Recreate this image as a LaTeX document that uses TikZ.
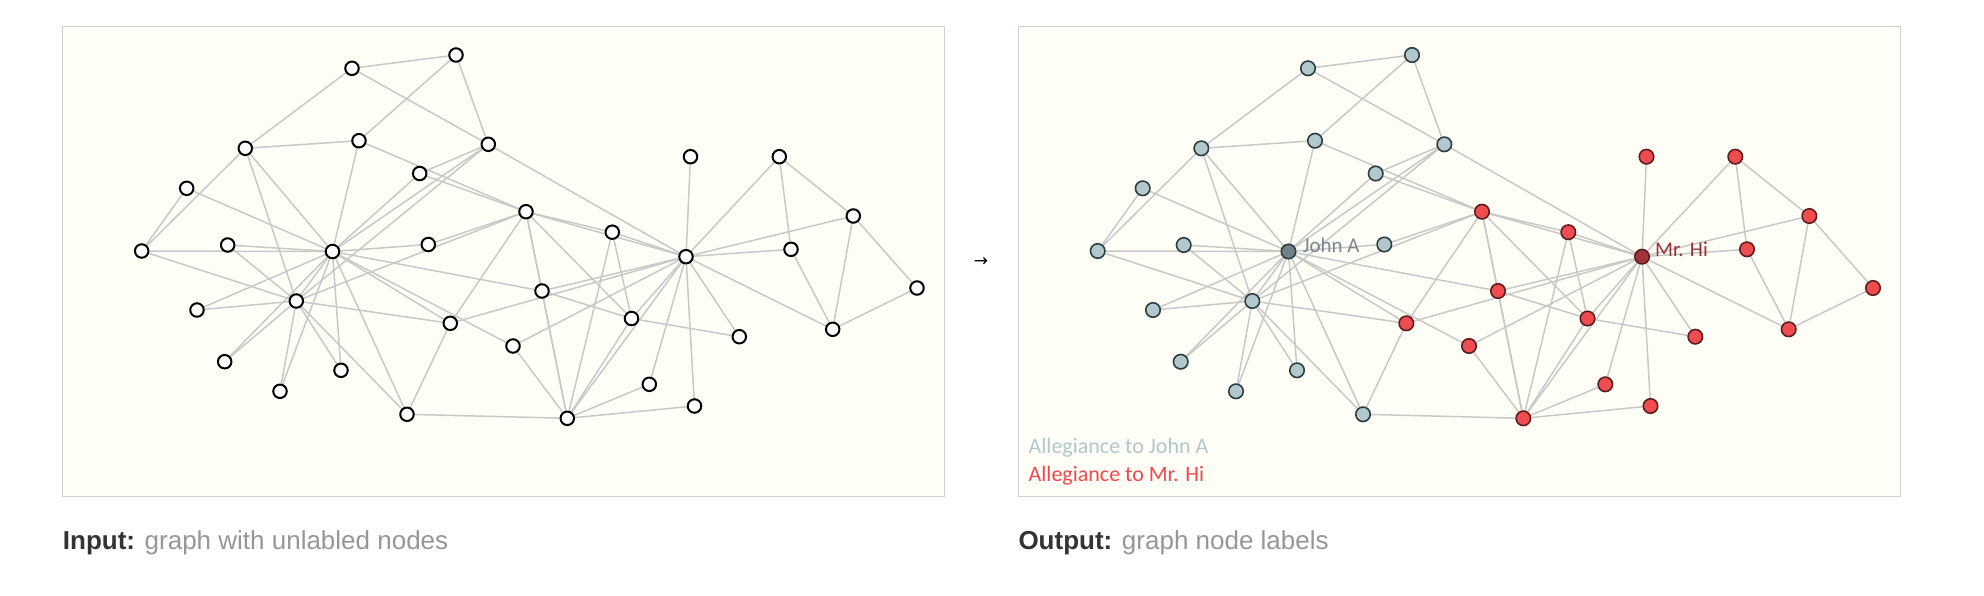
\documentclass[tikz,border=0pt]{standalone}
\usepackage{fontspec}
\setmainfont{Liberation Sans}
\newfontfamily\uifont{Carlito}
\newfontfamily\arrowfont{DejaVu Sans}
\usetikzlibrary{backgrounds}

\definecolor{panelbg}{RGB}{255,255,247}
\definecolor{panelline}{RGB}{208,208,208}
\definecolor{edgegray}{RGB}{200,200,200}
\definecolor{jafill}{RGB}{178,200,204}
\definecolor{jadraw}{RGB}{45,62,66}
\definecolor{jahub}{RGB}{112,130,134}
\definecolor{hifill}{RGB}{239,76,80}
\definecolor{hidraw}{RGB}{92,30,32}
\definecolor{hihub}{RGB}{160,52,56}
\definecolor{jatext}{RGB}{120,136,140}
\definecolor{hitext}{RGB}{150,50,55}
\definecolor{legja}{RGB}{176,200,204}
\definecolor{leghi}{RGB}{240,72,78}
\definecolor{capgray}{RGB}{150,150,150}
\definecolor{capdark}{RGB}{51,51,51}

% 各ノードの位置 (番号/x/y)
\def\hilist{2/567.3/418.3, 3/526/211.7, 4/631.5/318.5,
  5/779.3/156.7, 6/832.7/329.3, 7/853.3/216, 8/612.3/232.2, 9/450.3/323.3,
  11/791/249.3, 12/690.5/156.7, 13/739.3/336.7, 14/542/291, 17/917/288,
  18/649.3/384.3, 20/513/346, 22/694.5/406}
\def\jalist{10/428.3/244.5, 15/227.7/245, 16/197/310, 19/224.7/361.7,
  21/341/370.3, 23/280/391.3, 24/245.3/148.3, 25/456/55, 26/352/68.3,
  27/186.7/188.3, 28/359/140.7, 29/419.7/173.5, 30/141.7/251,
  31/407/414.3, 32/488.3/144.3, 33/296.3/301}

\begin{document}
\begin{tikzpicture}[x=1pt,y=-1pt,
  vert/.style={circle,inner sep=0pt,minimum size=13.5pt},
  plain/.style={vert,draw=black,fill=white,line width=2pt},
  ja/.style={vert,minimum size=14.5pt,draw=jadraw,fill=jafill,line width=1.6pt},
  hi/.style={vert,minimum size=14.5pt,draw=hidraw,fill=hifill,line width=1.6pt},
  edge/.style={draw=edgegray,line width=1.5pt},
  panel/.style={draw=panelline,fill=panelbg,line width=1pt}]
  \useasboundingbox (0,0) rectangle (1984,595);

  % ノード(左:入力, 右:出力)
  \foreach \n/\x/\y in \hilist {
    \node[plain] (L\n) at (\x,\y) {};
    \node[hi] (R\n) at (\x+956,\y) {};
  }
  \foreach \n/\x/\y in \jalist {
    \node[plain] (L\n) at (\x,\y) {};
    \node[ja] (R\n) at (\x+956,\y) {};
  }
  % Mr. Hi と John A
  \node[plain] (L1) at (686,256.7) {};
  \node[plain] (L34) at (332.5,251.5) {};
  \node[hi,fill=hihub] (R1) at (1642,256.7) {};
  \node[ja,fill=jahub] (R34) at (1288.5,251.5) {};

  % 枠と辺
  \begin{scope}[on background layer]
    \draw[panel] (62,26.5) rectangle (944.6,496);
    \draw[panel] (1018.6,26.5) rectangle (1900.6,496);
    \foreach \a/\b in {1/2,1/3,1/4,1/5,1/6,1/7,1/8,1/9,1/11,1/12,1/13,1/14,
      1/18,1/20,1/22,1/32,2/3,2/4,2/8,2/14,2/18,2/20,2/22,2/31,
      3/4,3/8,3/9,3/10,3/14,3/28,3/29,3/33,4/8,4/13,4/14,5/7,5/11,
      6/7,6/11,6/17,7/17,9/31,9/33,9/34,10/34,14/34,15/33,15/34,
      16/33,16/34,19/33,19/34,20/34,21/33,21/34,23/33,23/34,
      24/26,24/28,24/30,24/33,24/34,25/26,25/28,25/32,26/32,
      27/30,27/34,28/34,29/32,29/34,30/33,30/34,31/33,31/34,
      32/33,32/34,33/34} {
      \draw[edge] (L\a) -- (L\b);
      \draw[edge] (R\a) -- (R\b);
    }
  \end{scope}

  % ラベル
  \node[anchor=base west,inner sep=0pt,text=jatext,font=\uifont\fontsize{21}{24}\selectfont]
    (jalabel) at (1302.7,252.3) {John A};
  \node[anchor=base west,inner sep=0pt,text=hitext,font=\uifont\fontsize{21}{24}\selectfont]
    (hilabel) at (1655,256.5) {Mr. Hi};
  \node[anchor=base west,inner sep=0pt,text=legja,font=\uifont\fontsize{22}{24}\selectfont]
    (legendja) at (1028.5,453.3) {Allegiance to John A};
  \node[anchor=base west,inner sep=0pt,text=leghi,font=\uifont\fontsize{22}{24}\selectfont]
    (legendhi) at (1028.5,481) {Allegiance to Mr. Hi};

  % 矢印と見出し
  \node[font=\arrowfont\fontsize{17}{18}\selectfont] (arrow) at (981,262) {→};
  \node[anchor=base west,inner sep=0pt,text=capgray,font=\fontsize{26}{30}\selectfont]
    (incap) at (62.7,549.3) {\textcolor{capdark}{\bfseries Input:} graph with unlabled nodes};
  \node[anchor=base west,inner sep=0pt,text=capgray,font=\fontsize{26}{30}\selectfont]
    (outcap) at (1018.3,549.3) {\textcolor{capdark}{\bfseries Output:} graph node labels};
\end{tikzpicture}
\end{document}
